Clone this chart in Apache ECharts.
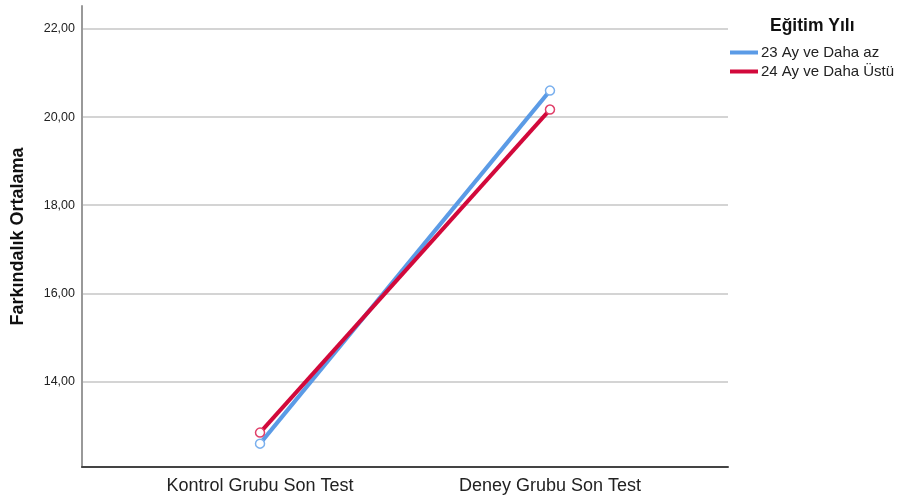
<!DOCTYPE html>
<html>
<head>
<meta charset="utf-8">
<script src="https://cdn.jsdelivr.net/npm/echarts@6/dist/echarts.min.js"></script>
<style>
  html, body { margin: 0; padding: 0; background: #fff; }
  #chart { width: 899px; height: 497px; }
</style>
</head>
<body>
<div id="chart"></div>
<script>
// veriler
var categories = ['Kontrol Grubu Son Test', 'Deney Grubu Son Test'];
var seriesNames = ['23 Ay ve Daha az', '24 Ay ve Daha Üstü'];
var az23 = [12.59, 20.60];
var ustu24 = [12.84, 20.17];
var yTicks = [14, 16, 18, 20, 22];
var colors = ['#5b9be6', '#d2093b'];

var chart = echarts.init(document.getElementById('chart'));

function pairs(vals) {
    return vals.map(function (v, i) { return [i, v]; });
}

var font = '"Liberation Sans", Arial, sans-serif';

var option = {
    animation: false,
    textStyle: { fontFamily: font },
    title: {
        text: 'Eğitim Yılı',
        left: 765,
        top: 12,
        textStyle: { fontSize: 17.5, fontWeight: 'bold', color: '#111', fontFamily: font }
    },
    legend: {
        orient: 'vertical',
        left: 730,
        top: 45,
        padding: 0,
        itemGap: 4,
        itemWidth: 28,
        itemHeight: 4,
        icon: 'rect',
        textStyle: { fontSize: 15, color: '#222', fontFamily: font, padding: [0, 0, 0, -2] },
        data: seriesNames.map(function (n, i) {
            return { name: n, itemStyle: { color: colors[i], borderWidth: 0 } };
        })
    },
    grid: { left: 82, right: 171, top: 6, bottom: 30, containLabel: false },
    xAxis: {
        type: 'value',
        min: -0.614,
        max: 1.614,
        splitLine: { show: false },
        axisTick: { show: false, customValues: [0, 1] },
        axisLine: { show: true, lineStyle: { color: '#444', width: 2 } },
        axisLabel: {
            customValues: [0, 1],
            fontSize: 18,
            color: '#222',
            margin: 10,
            formatter: function (v) { return categories[Math.round(v)]; }
        }
    },
    yAxis: {
        type: 'value',
        min: 12.06,
        max: 22.52,
        name: 'Farkındalık Ortalama',
        nameLocation: 'middle',
        nameGap: 55,
        nameTextStyle: { fontSize: 18, fontWeight: 'bold', color: '#111', fontFamily: font },
        axisLine: { show: true, onZero: false, lineStyle: { color: '#999', width: 2 } },
        axisTick: { show: false, customValues: yTicks },
        axisLabel: {
            customValues: yTicks,
            fontSize: 12.5,
            color: '#222',
            margin: 7,
            formatter: function (v) { return v.toFixed(2).replace('.', ','); }
        },
        splitLine: { show: true, lineStyle: { color: '#d4d4d4', width: 2 } }
    },
    series: [
        {
            name: seriesNames[0],
            type: 'line',
            data: pairs(az23),
            color: colors[0],
            lineStyle: { width: 4, color: colors[0] },
            symbol: 'circle',
            symbolSize: 9,
            itemStyle: { color: '#fff', borderColor: '#7ab0ee', borderWidth: 1.5 },
            z: 3
        },
        {
            name: seriesNames[1],
            type: 'line',
            data: pairs(ustu24),
            color: colors[1],
            lineStyle: { width: 4, color: colors[1] },
            symbol: 'circle',
            symbolSize: 9,
            itemStyle: { color: '#fff', borderColor: '#e0406a', borderWidth: 1.5 },
            z: 4
        }
    ]
};

chart.setOption(option);
</script>
</body>
</html>
